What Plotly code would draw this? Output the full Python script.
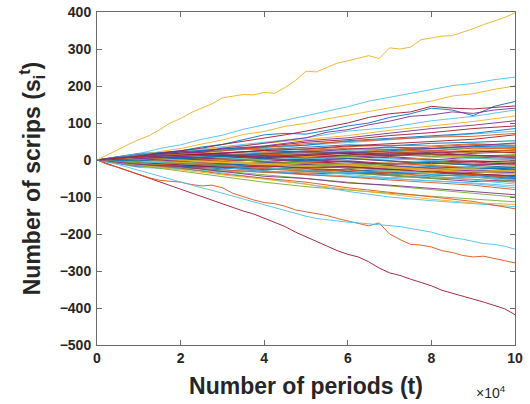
import plotly.graph_objects as go

# sample times (periods)
t_dense = [i * 2500 for i in range(41)]    # 41 samples
t_fine = [i * 5000 for i in range(21)]     # 21 samples
t_coarse = [i * 10000 for i in range(11)]  # 11 samples

# ---- strongest drifting paths (41 samples) ----
s_yellow_top = [0, 14, 30, 42, 55, 66, 82, 100, 112, 128, 140, 152, 168, 172, 177, 176, 183, 180, 196, 215,
                240, 238, 250, 262, 268, 276, 282, 274, 303, 300, 305, 325, 330, 335, 336, 345, 355, 366, 375, 385, 398]
s_crimson_low = [0, -10, -20, -30, -40, -50, -60, -70, -80, -88, -100, -108, -118, -128, -138, -146, -158, -168, -180, -195,
                 -208, -220, -232, -245, -255, -262, -275, -292, -305, -312, -322, -330, -340, -352, -360, -366, -375, -384, -393, -402, -418]
s_orange_low = [0, -12, -20, -30, -38, -48, -55, -58, -60, -66, -70, -68, -75, -90, -100, -108, -115, -118, -125, -135,
                -140, -144, -150, -158, -165, -172, -178, -170, -200, -215, -228, -230, -235, -245, -250, -258, -262, -260, -265, -272, -278]
s_cyan_low = [0, -5, -12, -20, -28, -36, -45, -52, -60, -68, -75, -82, -90, -98, -105, -112, -120, -130, -138, -145,
              -152, -158, -162, -165, -168, -170, -172, -175, -176, -180, -185, -190, -195, -203, -210, -214, -220, -226, -228, -233, -241]
dense_paths = [s_yellow_top, s_crimson_low, s_orange_low, s_cyan_low]
dense_color_idx = [2, 6, 1, 5]

# ---- other prominent paths (21 samples) ----
s_cyan_top = [0, 9, 17, 31, 41, 56, 67, 83, 95, 109, 119, 133, 144, 159, 169, 181, 189, 201, 207, 217, 224]
s_yellow_2 = [0, 6, 11, 23, 31, 43, 54, 69, 77, 91, 99, 111, 121, 133, 141, 151, 159, 173, 179, 191, 200]
s_blue_wig = [0, 5, 12, 20, 25, 35, 42, 55, 68, 72, 70, 80, 92, 100, 115, 125, 140, 135, 120, 145, 158]
s_red_wig = [0, 4, 10, 18, 25, 32, 42, 50, 58, 68, 78, 90, 100, 115, 125, 130, 145, 140, 138, 142, 146]
s_red_wig2 = [0, 8, 6, 15, 22, 20, 32, 38, 45, 52, 60, 75, 82, 95, 105, 118, 122, 130, 126, 135, 140]
fine_paths = [s_cyan_top, s_yellow_2, s_blue_wig, s_red_wig, s_red_wig2]
fine_color_idx = [5, 2, 0, 6, 3]

# ---- mid paths (11 samples) ----
s_mid = [
    [0, 14, 24, 36, 50, 60, 78, 88, 106, 118, 135],
    [0, 12, 20, 34, 45, 55, 66, 80, 92, 104, 119],
    [0, 15, 18, 30, 38, 52, 60, 72, 85, 94, 106],
    [0, 10, 18, 25, 36, 48, 55, 66, 74, 85, 92],
    [0, 13, 15, 26, 30, 40, 47, 55, 62, 70, 78],
    [0, 9, 14, 18, 26, 30, 38, 44, 50, 56, 68],
    [0, 11, 22, 30, 36, 40, 52, 58, 64, 72, 85],
    [0, 10, 16, 24, 34, 44, 50, 54, 62, 64, 72],
    [0, -15, -30, -45, -60, -72, -82, -90, -98, -106, -113],
    [0, -12, -22, -35, -50, -65, -85, -100, -110, -118, -126],
    [0, -10, -22, -38, -50, -60, -75, -88, -100, -112, -132],
    [0, -8, -20, -30, -40, -52, -60, -70, -80, -90, -100],
    [0, -14, -27, -40, -52, -66, -80, -92, -106, -116, -120],
    [0, -12, -18, -30, -44, -50, -62, -68, -76, -86, -94],
]
s_mid_color_idx = [5, 2, 3, 6, 5, 6, 0, 1, 4, 5, 1, 4, 2, 3]

# ---- dense bundle (11 samples) ----
s_bundle = [
    [0, 18, 22, 30, 28, 35, 41, 38, 45, 48, 52],
    [0, -12, -20, -18, -30, -35, -33, -41, -48, -52, -60],
    [0, 8, 5, 14, 20, 17, 25, 22, 30, 34, 31],
    [0, -5, -15, -10, -22, -28, -25, -34, -30, -38, -44],
    [0, 15, 10, 18, 12, 20, 16, 10, 15, 8, 12],
    [0, -20, -25, -32, -28, -40, -45, -50, -55, -62, -70],
    [0, 4, 12, 8, 15, 10, 4, 9, 2, -5, -2],
    [0, -8, -4, -12, -6, -15, -20, -16, -24, -20, -28],
    [0, 12, 20, 25, 32, 28, 36, 40, 38, 44, 40],
    [0, -3, 5, -2, -10, -6, -14, -18, -12, -22, -18],
    [0, 10, 3, 10, 5, 0, 8, 14, 10, 18, 22],
    [0, -15, -10, -20, -26, -22, -32, -38, -44, -40, -48],
    [0, 6, 15, 20, 18, 26, 22, 30, 26, 33, 37],
    [0, -10, -18, -14, -8, -16, -12, -20, -28, -34, -30],
    [0, 2, -6, -12, -5, -13, -8, -15, -22, -18, -25],
    [0, 16, 12, 20, 26, 22, 18, 24, 20, 27, 25],
    [0, -6, 2, 8, 2, 10, 6, 0, 6, 12, 8],
    [0, -18, -12, -22, -30, -38, -34, -42, -50, -58, -55],
    [0, 9, 16, 12, 6, 14, 10, 18, 24, 20, 28],
    [0, -2, -10, -4, -12, -20, -16, -24, -18, -26, -35],
    [0, 12, 6, -2, 5, -3, 4, -4, -10, -5, -12],
    [0, -9, -16, -24, -20, -28, -36, -32, -40, -46, -52],
    [0, 5, 0, 8, 16, 12, 20, 28, 24, 32, 30],
    [0, -14, -8, -2, -10, -4, -12, -8, -16, -10, -15],
    [0, 3, 10, 16, 10, 4, 12, 6, 0, 8, 4],
    [0, -7, -14, -8, -18, -12, -22, -28, -24, -32, -38],
    [0, 14, 20, 14, 22, 30, 26, 34, 30, 36, 45],
    [0, -4, 4, -4, 2, -6, -2, -10, -4, -12, -8],
    [0, -16, -22, -18, -26, -20, -30, -26, -34, -40, -45],
    [0, 7, 2, -5, 2, -6, -12, -8, -16, -22, -20],
    [0, 10, 16, 22, 16, 24, 30, 26, 20, 26, 18],
    [0, -11, -5, -12, -18, -14, -22, -16, -24, -30, -26],
    [0, 0, 8, 2, 10, 16, 10, 18, 14, 10, 15],
    [0, -13, -20, -28, -34, -30, -40, -48, -44, -55, -65],
    [0, 6, -2, 4, -4, -10, -4, -12, -6, -2, -6],
    [0, -5, -12, -20, -14, -24, -30, -38, -34, -42, -50],
    [0, 11, 5, 13, 19, 15, 23, 17, 25, 21, 27],
    [0, -8, -2, -10, -16, -24, -20, -28, -34, -30, -38],
    [0, 4, -4, -10, -16, -12, -20, -26, -22, -30, -34],
    [0, 13, 9, 16, 10, 4, 10, 16, 10, 4, 0],
    [0, -17, -24, -20, -30, -36, -44, -50, -56, -64, -75],
    [0, 2, 9, 4, 12, 6, 14, 20, 16, 12, 10],
    [0, -10, -4, -14, -10, -18, -14, -22, -18, -24, -22],
    [0, 8, 14, 10, 18, 24, 32, 28, 36, 42, 38],
    [0, -3, -11, -6, -14, -8, -16, -22, -28, -24, -32],
    [0, 15, 8, 2, -4, 2, -6, -12, -6, -14, -10],
    [0, -12, -6, -14, -22, -28, -36, -42, -50, -46, -58],
    [0, 5, 12, 6, 0, 6, 0, 4, -2, 4, 2],
    [0, -6, -14, -20, -16, -22, -18, -26, -32, -38, -42],
    [0, 9, 4, 11, 17, 23, 19, 25, 31, 37, 34],
    [0, -14, -20, -26, -32, -40, -46, -54, -60, -68, -80],
    [0, 1, -7, -2, -9, -15, -11, -19, -25, -21, -14],
    [0, 7, 13, 19, 25, 21, 29, 35, 31, 39, 46],
    [0, -9, -3, 3, -3, -9, -15, -11, -5, -11, -4],
    [0, -4, -10, -16, -22, -28, -34, -30, -38, -46, -54],
    [0, 12, 18, 12, 6, 12, 18, 12, 18, 24, 20],
    [0, -2, 4, 10, 4, -2, 4, -2, -8, -14, -20],
    [0, -15, -9, -17, -23, -31, -27, -35, -43, -39, -48],
    [0, 6, 0, -6, -12, -18, -14, -20, -26, -32, -28],
    [0, 3, 9, 15, 9, 15, 21, 15, 21, 13, 6],
]

x_ticks = [0, 20000, 40000, 60000, 80000, 100000]
x_tick_labels = ["0", "2", "4", "6", "8", "10"]
y_ticks = [-500, -400, -300, -200, -100, 0, 100, 200, 300, 400]

COLORS = ['#0072BD', '#D95319', '#EDB120', '#7E2F8E', '#77AC30', '#4DBEEE', '#A2142F']
FONT = "Liberation Sans, Arial, Helvetica, sans-serif"
TXT = "#262626"

fig = go.Figure()


def add_line(x, y, color):
    fig.add_trace(go.Scatter(x=x, y=y, mode="lines",
                             line=dict(color=color, width=0.9),
                             showlegend=False, hoverinfo="skip"))


for i, s in enumerate(s_bundle):
    add_line(t_coarse, s, COLORS[i % 7])
for s, ci in zip(s_mid, s_mid_color_idx):
    add_line(t_coarse, s, COLORS[ci])
for s, ci in zip(fine_paths, fine_color_idx):
    add_line(t_fine, s, COLORS[ci])
for s, ci in zip(dense_paths, dense_color_idx):
    add_line(t_dense, s, COLORS[ci])

axis_common = dict(showline=True, linecolor="#6b6b6b", linewidth=1, mirror="ticks",
                   ticks="inside", ticklen=5, tickcolor="#6b6b6b", tickwidth=1,
                   showgrid=False, zeroline=False, ticklabeloverflow="allow",
                   automargin=False,
                   tickfont=dict(family=FONT, size=14, color=TXT, weight="bold"))

fig.update_layout(
    width=530, height=404,
    margin=dict(l=97, r=15, t=12, b=59),
    paper_bgcolor="white", plot_bgcolor="white",
    xaxis=dict(range=[0, 100000], tickvals=x_ticks, ticktext=x_tick_labels,
               title=dict(text="Number of periods (t)", standoff=13,
                          font=dict(family=FONT, size=23, color=TXT, weight="bold")),
               **axis_common),
    yaxis=dict(range=[-500, 400], tickvals=y_ticks, ticklabelstandoff=2,
               title=dict(text="Number of scrips (s<sub>i</sub><sup>t</sup>)", standoff=12,
                          font=dict(family=FONT, size=23, color=TXT, weight="bold")),
               **axis_common),
    annotations=[dict(text="×10<sup>4</sup>", xref="paper", yref="paper",
                      x=0.983, y=-0.141, xanchor="right", yanchor="middle", showarrow=False,
                      font=dict(family=FONT, size=14, color=TXT))],
)

# remove the default page margin so the figure sits at the window's top-left corner
fig.write_html("out.html",
               config={"displayModeBar": False, "staticPlot": True},
               post_script="document.body.style.margin='0';document.body.style.overflow='hidden';")
